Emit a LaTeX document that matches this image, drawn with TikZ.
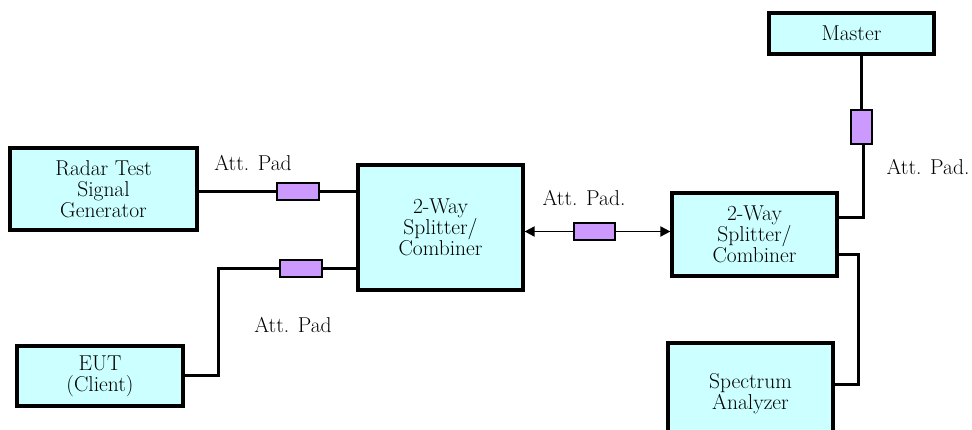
\documentclass[tikz,border=0pt]{standalone}
\usepackage{fontspec}
\usetikzlibrary{arrows.meta}
\definecolor{boxfill}{HTML}{CCFFFF}
\definecolor{padfill}{HTML}{CC99FF}
\begin{document}
\begin{tikzpicture}[x=1pt,y=-1pt,
  blk/.style={draw=black, line width=3.2pt, fill=boxfill, inner sep=0pt, align=center,
    font=\rmfamily\fontsize{21.5}{21}\selectfont},
  pad/.style={draw=black, line width=1.8pt, fill=padfill, inner sep=0pt},
  wire/.style={line width=3pt},
  thinwire/.style={line width=1.8pt},
  lbl/.style={font=\rmfamily\fontsize{21.5}{22}\selectfont, inner sep=0pt}]
\useasboundingbox (0,0) rectangle (972,430);
\clip (0,0) rectangle (972,430);
% blocks
\node[blk, minimum width=187pt, minimum height=82pt] (radar) at (103.5,189) {Radar Test\\Signal\\Generator};
\node[blk, minimum width=166pt, minimum height=60pt] (eut) at (100,376) {EUT\\(Client)};
\node[blk, minimum width=165pt, minimum height=125pt] (sp1) at (440.5,227.5) {2-Way\\Splitter/\\Combiner};
\node[blk, minimum width=165pt, minimum height=83pt] (sp2) at (754.5,234.5) {2-Way\\Splitter/\\Combiner};
\node[blk, minimum width=165pt, minimum height=41pt] (master) at (851.5,33.5) {Master};
\node[blk, minimum width=165pt, minimum height=100pt] (sa) at (750.5,393) {};
\node[font=\rmfamily\fontsize{21.5}{21}\selectfont, align=center] (satext) at (750.5,394) {Spectrum\\Analyzer};
% pads
\node[pad, minimum width=42pt, minimum height=17pt] (p1) at (298,191.5) {};
\node[pad, minimum width=42pt, minimum height=17pt] (p2) at (301,268.5) {};
\node[pad, minimum width=41pt, minimum height=17pt] (p3) at (594.5,231.5) {};
\node[pad, minimum width=21pt, minimum height=34pt] (p4) at (861.5,127) {};
% coordinates
\coordinate (e1) at (218,268.5);
\coordinate (e2) at (218,375);
\coordinate (m1) at (863,218);
\coordinate (s1) at (858,255);
\coordinate (s2) at (858,384);
% wires
\draw[wire] (radar.east |- p1) -- (p1.west);
\draw[wire] (p1.east) -- (sp1.west |- p1);
\draw[wire] (p2.east) -- (sp1.west |- p2);
\draw[wire] (p2.west) -- (e1) -- (e2) -- (eut.east |- e2);
\draw[thinwire, -{Triangle[length=10pt,width=10pt]}] (p3.west) -- (sp1.east |- p3);
\draw[thinwire, -{Triangle[length=10pt,width=10pt]}] (p3.east) -- (sp2.west |- p3);
\draw[wire] (master.south -| p4) -- (p4.north);
\draw[wire] (p4.south -| m1) -- (m1) -- (sp2.east |- m1);
\draw[wire] (sp2.east |- s1) -- (s1) -- (s2) -- (sa.east |- s2);
% labels
\node[lbl] (l1) at (253,163) {Att. Pad};
\node[lbl] (l2) at (293,325) {Att. Pad};
\node[lbl] (l3) at (584,198) {Att. Pad.};
\node[lbl] (l4) at (928,167) {Att. Pad.};
\end{tikzpicture}
\end{document}
